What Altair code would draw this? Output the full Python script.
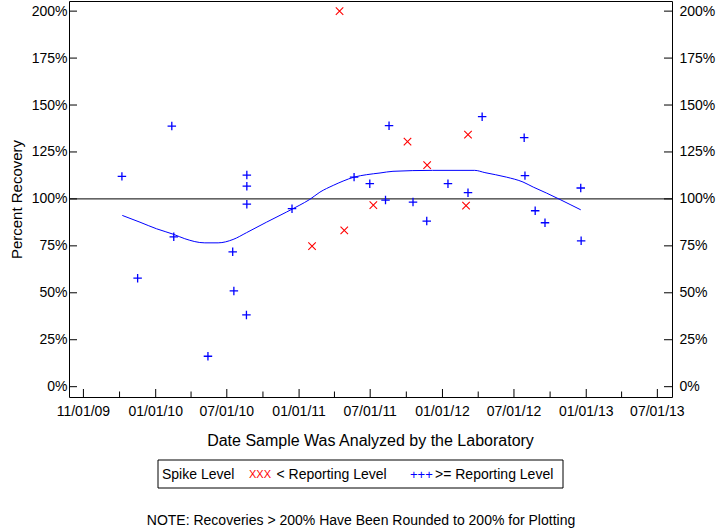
import altair as alt
import pandas as pd

# ---------------- data ----------------
blue_dates = ["2009-10-07", "2009-11-16", "2010-02-11", "2010-02-16", "2010-05-14",
              "2010-07-16", "2010-07-19", "2010-08-20", "2010-08-21", "2010-08-21",
              "2010-08-21", "2010-12-14", "2011-05-21", "2011-06-30", "2011-08-18",
              "2011-08-09", "2011-10-18", "2011-11-22", "2012-01-15", "2012-03-06",
              "2012-04-11", "2012-07-27", "2012-07-29", "2012-08-24", "2012-09-18",
              "2012-12-19", "2012-12-18"]
blue_values = [112.0, 57.8, 138.8, 79.8, 16.2,
               71.8, 51.0, 38.2, 97.2, 112.7,
               106.8, 94.8, 111.6, 108.1, 139.0,
               99.4, 98.3, 88.2, 108.1, 103.3,
               143.8, 132.6, 112.4, 93.7, 87.3,
               77.7, 105.8]

red_dates = ["2011-04-14", "2011-10-04", "2012-03-06", "2011-11-23",
             "2011-02-03", "2011-04-26", "2011-07-09", "2012-03-01"]
red_values = [200.0, 130.5, 134.2, 118.0, 74.8, 83.2, 96.7, 96.4]

fit_dates = ["2009-10-08", "2009-11-22", "2010-01-03", "2010-02-16", "2010-03-16",
             "2010-05-06", "2010-06-09", "2010-07-17", "2010-08-20", "2010-10-10",
             "2010-11-30", "2011-01-01", "2011-01-28", "2011-02-23", "2011-03-29",
             "2011-04-23", "2011-05-21", "2011-06-22", "2011-07-26", "2011-08-28",
             "2011-12-07", "2012-03-23", "2012-04-18", "2012-06-12", "2012-07-24",
             "2012-08-19", "2012-09-22", "2012-10-26", "2012-11-23", "2012-12-18"]
fit_values = [91.2, 87.6, 84.1, 81.1, 78.8,
              76.6, 76.6, 78.4, 82.0, 87.6,
              93.0, 96.5, 99.7, 103.6, 107.2,
              109.5, 111.6, 112.9, 113.8, 114.7,
              115.2, 115.2, 114.0, 111.6, 109.0,
              106.3, 103.1, 99.7, 96.8, 94.2]

x_tick_dates = ["2009-07-01", "2010-01-01", "2010-07-01", "2011-01-01", "2011-07-01",
                "2012-01-01", "2012-07-01", "2013-01-01", "2013-07-01"]
x_tick_labels = ["11/01/09", "01/01/10", "07/01/10", "01/01/11", "07/01/11",
                 "01/01/12", "07/01/12", "01/01/13", "07/01/13"]
x_minor_dates = ["2009-10-01", "2010-04-01", "2010-10-01", "2011-04-01",
                 "2011-10-01", "2012-04-01", "2012-10-01", "2013-04-01"]
y_ticks = [0, 25, 50, 75, 100, 125, 150, 175, 200]
reference_level = [100]

# ---------------- helpers ----------------
ORIGIN = pd.Timestamp("2010-01-01")


def to_days(dates):
    return [int((pd.Timestamp(d) - ORIGIN).days) for d in dates]


W, H = 603, 396
FONT = "Liberation Sans"
BLUE = "#0000FF"
RED = "#FF0000"

xscale = alt.Scale(domain=[-220.7, 1314.3], nice=False, zero=False)
yscale = alt.Scale(domain=[-5.5, 205.4], nice=False, zero=False)

blue_df = pd.DataFrame({"d": to_days(blue_dates), "v": blue_values})
red_df = pd.DataFrame({"d": to_days(red_dates), "v": red_values})
fit_df = pd.DataFrame({"d": to_days(fit_dates), "v": fit_values})
major_df = pd.DataFrame({"d": to_days(x_tick_dates), "label": x_tick_labels})
minor_df = pd.DataFrame({"d": to_days(x_minor_dates)})
ytick_df = pd.DataFrame({"v": y_ticks})
ref_df = pd.DataFrame({"v": reference_level})

y_left = alt.Axis(orient="left", values=y_ticks, labelExpr="datum.value + '%'",
                  ticks=False, tickSize=0, domain=False, grid=False,
                  labelFont=FONT, labelFontSize=14, labelColor="black",
                  labelPadding=2, labelBaseline="middle",
                  title="Percent Recovery", titleFont=FONT, titleFontSize=15,
                  titleFontWeight="normal", titleColor="black",
                  titleBaseline="middle", titleX=-53)

y_right = alt.Axis(orient="right", values=y_ticks, labelExpr="datum.value + '%'",
                   ticks=False, tickSize=0, domain=False, grid=False,
                   labelFont=FONT, labelFontSize=14, labelColor="black",
                   labelPadding=7, labelBaseline="middle", title=None)

# ---------------- layers ----------------
ref_rule = alt.Chart(ref_df).mark_rule(color="black", strokeWidth=1).encode(
    y=alt.Y("v:Q", scale=yscale, axis=y_left)
)

fit_line = alt.Chart(fit_df).mark_line(color=BLUE, strokeWidth=1,
                                       interpolate="monotone").encode(
    x=alt.X("d:Q", scale=xscale, axis=None),
    y=alt.Y("v:Q", scale=yscale, axis=None),
)

blue_pts = alt.Chart(blue_df).mark_point(
    shape="M-1,0H1M0,-1V1", size=72, filled=False, color=BLUE, strokeWidth=1.3,
    opacity=1
).encode(
    x=alt.X("d:Q", scale=xscale, axis=None),
    y=alt.Y("v:Q", scale=yscale, axis=y_right),
)

red_pts = alt.Chart(red_df).mark_point(
    shape="M-1,-1L1,1M-1,1L1,-1", size=56, filled=False, color=RED,
    strokeWidth=1.1, opacity=1
).encode(
    x=alt.X("d:Q", scale=xscale, axis=None),
    y=alt.Y("v:Q", scale=yscale, axis=None),
)

major_ticks = alt.Chart(major_df).mark_rule(color="black", strokeWidth=1).encode(
    x=alt.X("d:Q", scale=xscale, axis=None),
    y=alt.value(H - 8), y2=alt.value(H),
)
x_labels = alt.Chart(major_df).mark_text(
    font=FONT, fontSize=14, color="black", align="center", baseline="middle"
).encode(
    x=alt.X("d:Q", scale=xscale, axis=None),
    y=alt.value(411),
    text="label:N",
)
minor_ticks = alt.Chart(minor_df).mark_rule(color="black", strokeWidth=1).encode(
    x=alt.X("d:Q", scale=xscale, axis=None),
    y=alt.value(H - 5.5), y2=alt.value(H),
)
left_ticks = alt.Chart(ytick_df).mark_rule(color="black", strokeWidth=1).encode(
    y=alt.Y("v:Q", scale=yscale, axis=None),
    x=alt.value(0), x2=alt.value(8),
)
right_ticks = alt.Chart(ytick_df).mark_rule(color="black", strokeWidth=1).encode(
    y=alt.Y("v:Q", scale=yscale, axis=None),
    x=alt.value(W - 8), x2=alt.value(W),
)

one = alt.Data(values=[{"k": 1}])
legend_box = alt.Chart(one).mark_rect(filled=False, stroke="black",
                                      strokeWidth=1).encode(
    x=alt.value(89), x2=alt.value(494), y=alt.value(459), y2=alt.value(487)
)


def label(text, x, color="black", size=14, align="left", y=474):
    return alt.Chart(one).mark_text(text=text, font=FONT, fontSize=size,
                                    color=color, align=align,
                                    baseline="middle").encode(
        x=alt.value(x), y=alt.value(y)
    )


x_title = label("Date Sample Was Analyzed by the Laboratory", W / 2,
                size=16, align="center", y=440)
legend_texts = [
    label("Spike Level", 93),
    label("XXX", 180, color=RED, size=11),
    label("< Reporting Level", 207.5),
    label("+++", 341, color=BLUE, size=13),
    label(">= Reporting Level", 366),
]
note = label("NOTE: Recoveries > 200% Have Been Rounded to 200% for Plotting",
             292, align="center", y=520)

chart = alt.layer(
    ref_rule, fit_line, blue_pts, red_pts,
    major_ticks, minor_ticks, left_ticks, right_ticks, x_labels, x_title,
    legend_box, *legend_texts, note
).resolve_scale(y="shared", x="shared").resolve_axis(y="independent").properties(
    width=W, height=H,
    autosize=alt.AutoSizeParams(type="none"),
    padding={"left": 69, "top": 1, "right": 48, "bottom": 131},
    background="white",
).configure_view(stroke="black", strokeWidth=1)

chart.save("out.html", embed_options={"renderer": "svg", "actions": False})
